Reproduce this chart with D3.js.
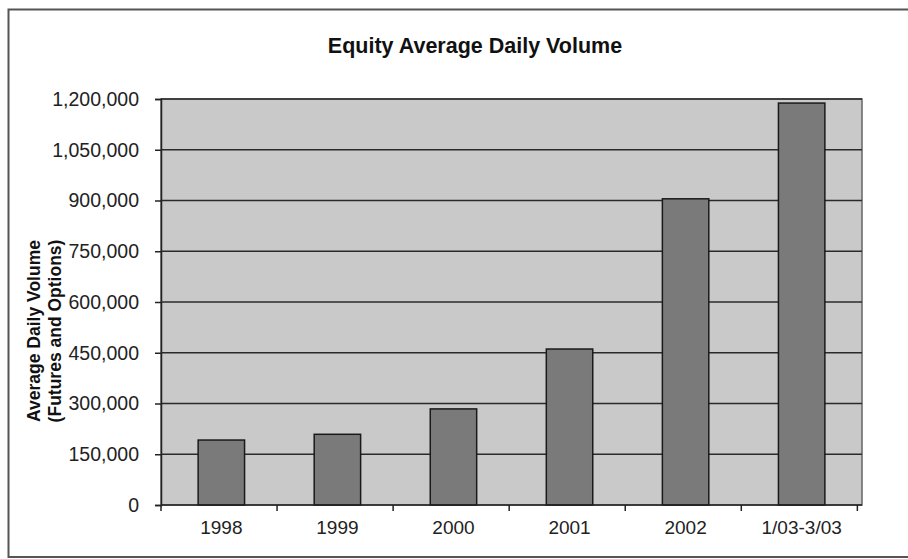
<!DOCTYPE html>
<html><head><meta charset="utf-8">
<script src="https://cdn.jsdelivr.net/npm/d3@7/dist/d3.min.js"></script>
<style>
html,body{margin:0;padding:0;background:#fff;}
svg{display:block;font-family:"Liberation Sans",Arial,sans-serif;}
</style></head>
<body>
<svg id="chart" width="908" height="559"></svg>
<script>
const categories = ["1998","1999","2000","2001","2002","1/03-3/03"];
const volumes = [192000, 209000, 284000, 461000, 905000, 1188000];
const yTicks = [0,150000,300000,450000,600000,750000,900000,1050000,1200000];
const titleText = "Equity Average Daily Volume";
const yTitleLines = ["Average Daily Volume","(Futures and Options)"];

const svg = d3.select("#chart");
const m = {left:161, right:862, top:99, bottom:505};

// outer frame
svg.append("rect").attr("x",8.5).attr("y",9.5).attr("width",920).attr("height",547.5)
  .attr("fill","#fff").attr("stroke","#555").attr("stroke-width",2);

const x = d3.scaleBand().domain(categories).range([m.left,m.right]).paddingInner(0.6).paddingOuter(0.32);
const y = d3.scaleLinear().domain([0,1200000]).range([m.bottom,m.top]);

// plot area
svg.append("rect").attr("x",m.left).attr("y",m.top).attr("width",m.right-m.left).attr("height",m.bottom-m.top)
  .attr("fill","#c9c9c9").attr("stroke","#666").attr("stroke-width",1.5);

// gridlines
svg.append("g").selectAll("line").data(yTicks.filter(d=>d>0)).join("line")
  .attr("x1",m.left).attr("x2",m.right).attr("y1",d=>y(d)).attr("y2",d=>y(d))
  .attr("stroke","#2a2a2a").attr("stroke-width",1.5);

// bars
svg.append("g").selectAll("rect").data(categories).join("rect")
  .attr("x",d=>x(d)).attr("width",x.bandwidth())
  .attr("y",(d,i)=>y(volumes[i])).attr("height",(d,i)=>y(0)-y(volumes[i]))
  .attr("fill","#7a7a7a").attr("stroke","#1a1a1a").attr("stroke-width",1.5);

// y axis
const yAxis = d3.axisLeft(y).tickValues(yTicks).tickFormat(d3.format(",")).tickSize(6).tickPadding(16);
const gy = svg.append("g").attr("transform",`translate(${m.left},0)`).call(yAxis);
gy.select(".domain").attr("stroke","#222").attr("stroke-width",1.5);
gy.selectAll(".tick line").attr("stroke","#222").attr("stroke-width",1.5);
gy.selectAll(".tick text").attr("font-size",19.5).attr("fill","#222").attr("font-family","Liberation Sans, Arial, sans-serif");

// x axis (labels)
const xAxis = d3.axisBottom(x).tickSize(0).tickPadding(16);
const gx = svg.append("g").attr("transform",`translate(0,${m.bottom})`).call(xAxis);
gx.select(".domain").remove();
gx.selectAll(".tick text").attr("font-size",19).attr("fill","#222").attr("font-family","Liberation Sans, Arial, sans-serif");
svg.append("line").attr("x1",m.left).attr("x2",m.right).attr("y1",m.bottom).attr("y2",m.bottom)
  .attr("stroke","#222").attr("stroke-width",1.5);
// category boundary ticks
const bounds = d3.range(categories.length+1).map(i => m.left + i*x.step());
svg.append("g").selectAll("line").data(bounds).join("line")
  .attr("x1",d=>d).attr("x2",d=>d).attr("y1",m.bottom).attr("y2",m.bottom+6)
  .attr("stroke","#222").attr("stroke-width",1.5);

// title
svg.append("text").attr("x",475).attr("y",53).attr("text-anchor","middle")
  .attr("font-size",21.5).attr("font-weight","bold").attr("fill","#111").text(titleText);

// y title
const yt = svg.append("text").attr("transform","translate(0,331) rotate(-90)")
  .attr("text-anchor","middle").attr("font-size",17.5).attr("font-weight","bold").attr("fill","#111");
yTitleLines.forEach((t,i)=>{
  yt.append("tspan").attr("x",0).attr("y",40 + i*21).text(t);
});
</script>
</body></html>
